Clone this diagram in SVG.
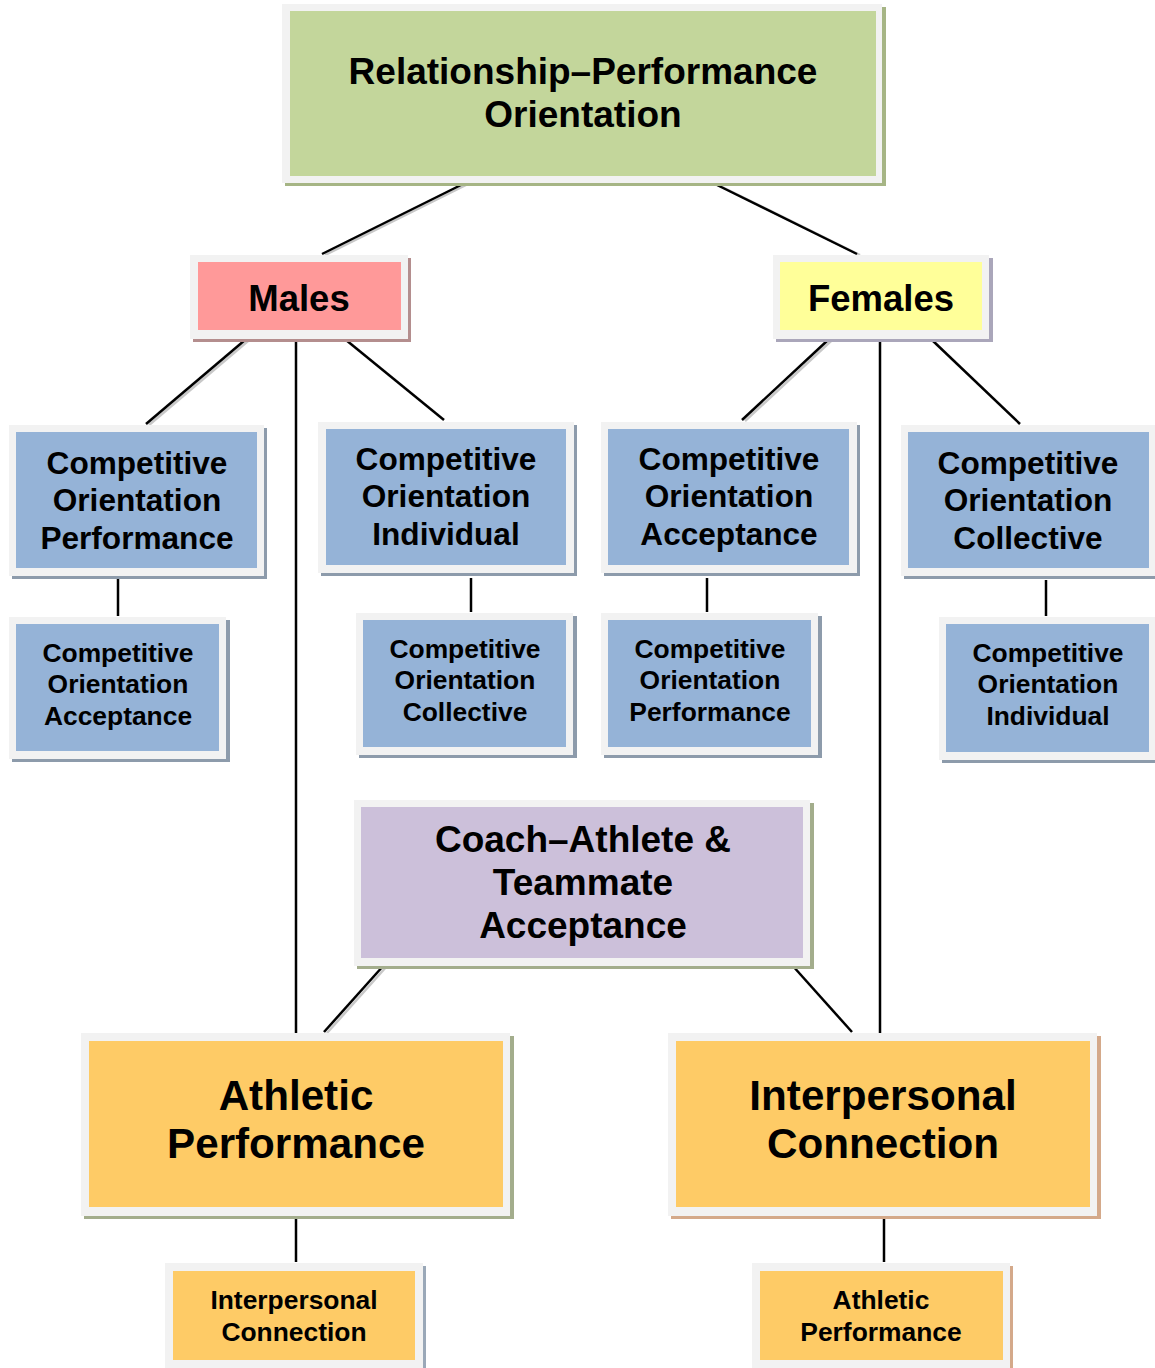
<svg xmlns="http://www.w3.org/2000/svg" width="1155" height="1368" viewBox="0 0 1155 1368">
  <style>
    .frame { fill: #f2f2f2; }
    .t { font-family: "Liberation Sans", Arial, sans-serif; font-weight: bold; fill: #000; text-anchor: middle; }
    .green { fill: #c3d69b; }
    .red { fill: #ff9999; }
    .yellow { fill: #ffff99; }
    .blue { fill: #95b3d7; }
    .purple { fill: #ccc0da; }
    .orange { fill: #fecb66; }
    .ln { stroke: #000; stroke-width: 2.5; fill: none; }
    .lns { stroke: #c8c8c8; stroke-width: 2.5; fill: none; }
  </style>

  <!-- connectors -->
  <g id="connectors">
    <g transform="translate(3,1)">
      <line class="lns" x1="465" y1="183" x2="322" y2="254"/>
      <line class="lns" x1="713" y1="183" x2="857" y2="254"/>
      <line class="lns" x1="245" y1="340" x2="146" y2="424"/>
      <line class="lns" x1="828" y1="340" x2="742" y2="420"/>
      <line class="lns" x1="384" y1="965" x2="324" y2="1032"/>
    </g>
    <line class="ln" x1="465" y1="183" x2="322" y2="254"/>
    <line class="ln" x1="713" y1="183" x2="857" y2="254"/>
    <line class="ln" x1="245" y1="340" x2="146" y2="424"/>
    <line class="ln" x1="346" y1="340" x2="444" y2="420"/>
    <line class="ln" x1="296" y1="340" x2="296" y2="1033"/>
    <line class="ln" x1="828" y1="340" x2="742" y2="420"/>
    <line class="ln" x1="932" y1="340" x2="1020" y2="424"/>
    <line class="ln" x1="880" y1="340" x2="880" y2="1033"/>
    <line class="ln" x1="118" y1="577" x2="118" y2="616"/>
    <line class="ln" x1="471" y1="578" x2="471" y2="612"/>
    <line class="ln" x1="707" y1="578" x2="707" y2="612"/>
    <line class="ln" x1="1046" y1="580" x2="1046" y2="616"/>
    <line class="ln" x1="384" y1="965" x2="324" y2="1032"/>
    <line class="ln" x1="792" y1="965" x2="852" y2="1032"/>
    <line class="ln" x1="296" y1="1216" x2="296" y2="1262"/>
    <line class="ln" x1="884" y1="1216" x2="884" y2="1262"/>
  </g>

  <!-- top node -->
  <g id="root">
    <rect x="285" y="7" width="601" height="179" fill="#a6b585"/>
    <rect class="frame" x="282" y="4" width="600" height="179"/>
    <rect class="green" x="290" y="11" width="586" height="165"/>
    <text class="t" font-size="37" x="583" y="84">Relationship–Performance</text>
    <text class="t" font-size="37" x="583" y="127">Orientation</text>
  </g>

  <g id="males">
    <rect x="193" y="258" width="218" height="84" fill="#b48e8e"/>
    <rect class="frame" x="190" y="255" width="218" height="84"/>
    <rect class="red" x="198" y="262" width="203" height="68"/>
    <text class="t" font-size="36.5" x="299" y="311">Males</text>
  </g>

  <g id="females">
    <rect x="776" y="258" width="217" height="84" fill="#aaa6ba"/>
    <rect class="frame" x="773" y="255" width="216" height="84"/>
    <rect class="yellow" x="780" y="262" width="202" height="68"/>
    <text class="t" font-size="36.5" x="881" y="311">Females</text>
  </g>

  <!-- competitive orientation, first row -->
  <g id="m-co-performance">
    <rect x="12" y="428" width="255" height="151" fill="#8d9bab"/>
    <rect class="frame" x="9" y="425" width="255" height="151"/>
    <rect class="blue" x="16" y="432" width="241" height="136"/>
    <text class="t" font-size="31.6" x="137" y="474">Competitive</text>
    <text class="t" font-size="31.6" x="137" y="511">Orientation</text>
    <text class="t" font-size="31.6" x="137" y="549">Performance</text>
  </g>

  <g id="m-co-individual">
    <rect x="321" y="425" width="256" height="151" fill="#8d9bab"/>
    <rect class="frame" x="318" y="422" width="256" height="151"/>
    <rect class="blue" x="326" y="429" width="240" height="136"/>
    <text class="t" font-size="31.6" x="446" y="470">Competitive</text>
    <text class="t" font-size="31.6" x="446" y="507">Orientation</text>
    <text class="t" font-size="31.6" x="446" y="545">Individual</text>
  </g>

  <g id="f-co-acceptance">
    <rect x="604" y="425" width="256" height="151" fill="#8d9bab"/>
    <rect class="frame" x="601" y="422" width="256" height="151"/>
    <rect class="blue" x="608" y="429" width="241" height="136"/>
    <text class="t" font-size="31.6" x="729" y="470">Competitive</text>
    <text class="t" font-size="31.6" x="729" y="507">Orientation</text>
    <text class="t" font-size="31.6" x="729" y="545">Acceptance</text>
  </g>

  <g id="f-co-collective">
    <rect x="904" y="428" width="255" height="151" fill="#8d9bab"/>
    <rect class="frame" x="901" y="425" width="255" height="151"/>
    <rect class="blue" x="908" y="432" width="241" height="136"/>
    <text class="t" font-size="31.6" x="1028" y="474">Competitive</text>
    <text class="t" font-size="31.6" x="1028" y="511">Orientation</text>
    <text class="t" font-size="31.6" x="1028" y="549">Collective</text>
  </g>

  <!-- competitive orientation, second row -->
  <g id="m-co-acceptance">
    <rect x="12" y="620" width="218" height="142" fill="#8d9bab"/>
    <rect class="frame" x="9" y="617" width="217" height="142"/>
    <rect class="blue" x="16" y="624" width="203" height="127"/>
    <text class="t" font-size="26.4" x="118" y="662">Competitive</text>
    <text class="t" font-size="26.4" x="118" y="693">Orientation</text>
    <text class="t" font-size="26.4" x="118" y="725">Acceptance</text>
  </g>

  <g id="m-co-collective">
    <rect x="359" y="616" width="218" height="142" fill="#8d9bab"/>
    <rect class="frame" x="356" y="613" width="217" height="142"/>
    <rect class="blue" x="363" y="620" width="203" height="127"/>
    <text class="t" font-size="26.4" x="465" y="658">Competitive</text>
    <text class="t" font-size="26.4" x="465" y="689">Orientation</text>
    <text class="t" font-size="26.4" x="465" y="721">Collective</text>
  </g>

  <g id="f-co-performance">
    <rect x="604" y="616" width="218" height="142" fill="#8d9bab"/>
    <rect class="frame" x="601" y="613" width="217" height="142"/>
    <rect class="blue" x="608" y="620" width="203" height="127"/>
    <text class="t" font-size="26.4" x="710" y="658">Competitive</text>
    <text class="t" font-size="26.4" x="710" y="689">Orientation</text>
    <text class="t" font-size="26.4" x="710" y="721">Performance</text>
  </g>

  <g id="f-co-individual">
    <rect x="942" y="620" width="217" height="143" fill="#8d9bab"/>
    <rect class="frame" x="939" y="617" width="216" height="143"/>
    <rect class="blue" x="946" y="624" width="203" height="128"/>
    <text class="t" font-size="26.4" x="1048" y="662">Competitive</text>
    <text class="t" font-size="26.4" x="1048" y="693">Orientation</text>
    <text class="t" font-size="26.4" x="1048" y="725">Individual</text>
  </g>

  <!-- shared node -->
  <g id="coach-teammate">
    <rect x="357" y="803" width="457" height="166" fill="#a3ad8c"/>
    <rect class="frame" x="354" y="800" width="456" height="166"/>
    <rect class="purple" x="361" y="807" width="442" height="151"/>
    <text class="t" font-size="37" x="583" y="852">Coach–Athlete &amp;</text>
    <text class="t" font-size="37" x="583" y="895">Teammate</text>
    <text class="t" font-size="37" x="583" y="938">Acceptance</text>
  </g>

  <!-- outcomes -->
  <g id="athletic-performance">
    <rect x="84" y="1036" width="430" height="183" fill="#a3ad8c"/>
    <rect class="frame" x="81" y="1033" width="429" height="183"/>
    <rect class="orange" x="89" y="1041" width="414" height="166"/>
    <text class="t" font-size="42.2" x="296" y="1110">Athletic</text>
    <text class="t" font-size="42.2" x="296" y="1158">Performance</text>
  </g>

  <g id="interpersonal-connection">
    <rect x="671" y="1036" width="430" height="183" fill="#d4a98a"/>
    <rect class="frame" x="668" y="1033" width="429" height="183"/>
    <rect class="orange" x="676" y="1041" width="414" height="166"/>
    <text class="t" font-size="42.2" x="883" y="1110">Interpersonal</text>
    <text class="t" font-size="42.2" x="883" y="1158">Connection</text>
  </g>

  <g id="m-interpersonal-connection">
    <rect x="168" y="1266" width="258" height="105" fill="#9aa8b8"/>
    <rect class="frame" x="165" y="1263" width="258" height="105"/>
    <rect class="orange" x="173" y="1271" width="242" height="89"/>
    <text class="t" font-size="26.4" x="294" y="1309">Interpersonal</text>
    <text class="t" font-size="26.4" x="294" y="1341">Connection</text>
  </g>

  <g id="f-athletic-performance">
    <rect x="755" y="1266" width="258" height="105" fill="#d4a98a"/>
    <rect class="frame" x="752" y="1263" width="258" height="105"/>
    <rect class="orange" x="760" y="1271" width="243" height="89"/>
    <text class="t" font-size="26.4" x="881" y="1309">Athletic</text>
    <text class="t" font-size="26.4" x="881" y="1341">Performance</text>
  </g>
</svg>
